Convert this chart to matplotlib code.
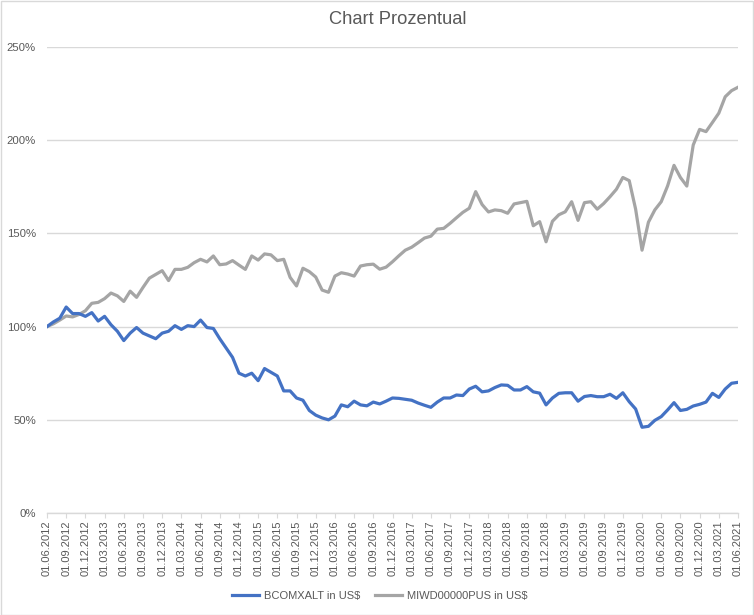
import matplotlib
matplotlib.use("Agg")
import matplotlib.pyplot as plt
from matplotlib.patches import Rectangle
import pandas as pd

dates = pd.date_range("2012-06-01", "2021-06-01", freq="MS")
tick_labels = [d.strftime("%d.%m.%Y") for d in dates[::3]]

bcomxalt = [
    100, 102.5, 104.5, 110.5, 107, 107, 105.5, 107.5, 103, 105.5,
    101, 97.5, 92.5, 96.5, 99.5, 96.5, 95, 93.5, 96.5, 97.5,
    100.5, 98.5, 100.5, 100, 103.5, 99.5, 99, 93.5, 88.5, 83.5,
    75, 73.5, 75, 71, 77.5, 75.5, 73.5, 65.5, 65.5, 61.7,
    60.5, 55, 52.5, 51, 50, 52, 58, 57, 60, 58,
    57.5, 59.5, 58.5, 60, 61.7, 61.5, 61, 60.5, 59, 57.8,
    56.7, 59.5, 61.7, 61.7, 63.3, 63, 66.5, 68, 65, 65.5,
    67.3, 68.7, 68.5, 66, 66, 67.8, 65, 64.3, 58, 61.7,
    64.2, 64.5, 64.5, 60, 62.5, 63, 62.4, 62.4, 63.7, 61.5,
    64.5, 59.7, 55.8, 46, 46.5, 49.7, 51.7, 55.3, 59.2, 55,
    55.6, 57.4, 58.3, 59.5, 64.2, 62, 66.5, 69.6, 70.1,
]

miwd = [
    100, 101.5, 103.5, 105.7, 105.2, 106.5, 108.5, 112.5, 113, 115,
    118, 116.5, 113.5, 119, 115.7, 121, 126, 128, 130, 124.7,
    130.7, 130.7, 131.8, 134.3, 136.1, 134.7, 137.9, 133.2, 133.6, 135.4,
    133, 130.7, 137.9, 135.7, 139, 138.5, 135.4, 136.1, 126.4, 121.8,
    131.3, 129.5, 126.6, 119.6, 118.4, 127.1, 128.9, 128.2, 127.1, 132.5,
    133.2, 133.5, 130.8, 131.9, 134.8, 138, 141, 142.6, 145, 147.5,
    148.5, 152.3, 152.7, 155.4, 158.4, 161.3, 163.5, 172.4, 165.5, 161.5,
    162.6, 162.2, 160.8, 165.8, 166.5, 167.2, 154.1, 156.3, 145.5, 156.5,
    160, 161.6, 167, 157, 166.5, 167, 163, 166, 169.7, 173.7,
    180, 178.3, 163, 141, 156, 162.6, 167, 175.5, 186.5, 180,
    175.4, 197.4, 205.8, 204.6, 209.5, 214.5, 223.3, 226.6, 228.4,
]

series_names = ["BCOMXALT in US$", "MIWD00000PUS in US$"]
colors = ["#4472C4", "#A5A5A5"]
text_color = "#595959"
grid_color = "#D9D9D9"

plt.rcParams["font.family"] = ["Liberation Sans", "DejaVu Sans"]

fig = plt.figure(figsize=(7.54, 6.15), dpi=100)
ax = fig.add_axes([47/754, 1-513/615, (738-47)/754, (513-47)/615])

x = list(range(len(bcomxalt)))
ax.plot(x, miwd, color=colors[1], lw=2.3, solid_joinstyle="round", zorder=3, label=series_names[1])
ax.plot(x, bcomxalt, color=colors[0], lw=2.3, solid_joinstyle="round", zorder=4, label=series_names[0])

ax.set_xlim(0, len(x) - 1)
ax.set_ylim(0, 250)
ax.set_yticks(range(0, 251, 50))
ax.set_yticklabels([f"{v}%" for v in range(0, 251, 50)])
ax.set_xticks(list(range(0, len(x), 3)))
ax.set_xticklabels(tick_labels, rotation=90)

ax.grid(axis="y", color=grid_color, lw=1)
ax.set_axisbelow(True)
for s in ["top", "right", "left"]:
    ax.spines[s].set_visible(False)
ax.spines["bottom"].set_color(grid_color)
ax.spines["bottom"].set_linewidth(1)
ax.tick_params(axis="y", length=0, labelsize=8.2, labelcolor=text_color, pad=8)
ax.tick_params(axis="x", length=3.5, color=grid_color, labelsize=8.0, labelcolor=text_color, pad=2)

fig.text(398/754, 1-20/615, "Chart Prozentual", ha="center", va="center",
         fontsize=13.2, color=text_color)

handles, labels = ax.get_legend_handles_labels()
leg = fig.legend(handles[::-1], labels[::-1], loc="center", bbox_to_anchor=(380/754, 1-596/615),
                 ncol=2, frameon=False, fontsize=8.0, handlelength=2.4, columnspacing=1.3,
                 handletextpad=0.5, labelcolor=text_color)

fig.patches.append(Rectangle((0.5/754, 0.5/615), 1-1.5/754, 1-1.5/615, transform=fig.transFigure,
                             fill=False, edgecolor=grid_color, lw=1))

fig.savefig("out.png", dpi=100)
